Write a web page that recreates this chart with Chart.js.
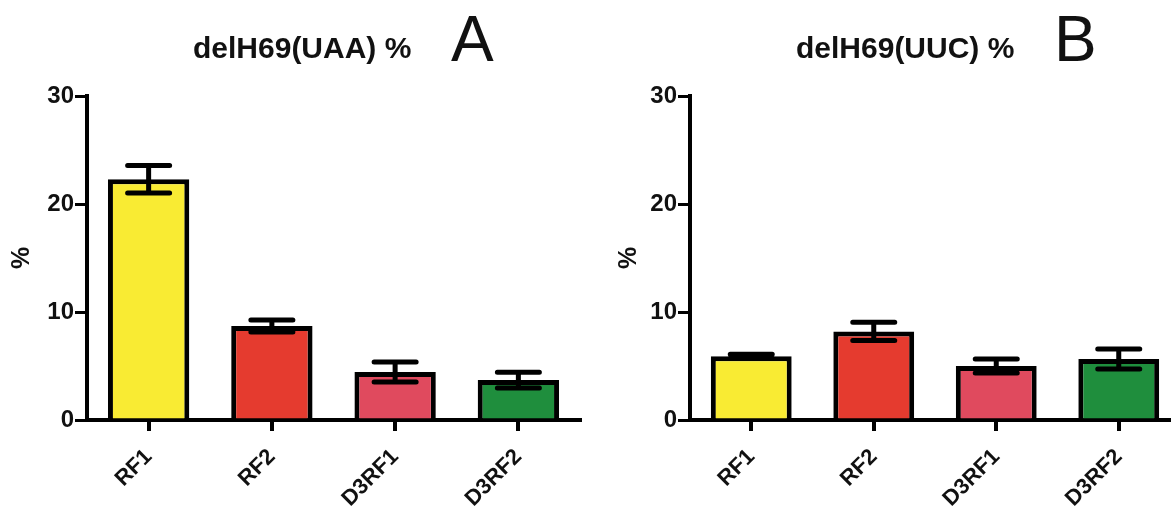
<!DOCTYPE html>
<html>
<head>
<meta charset="utf-8">
<script src="https://cdn.jsdelivr.net/npm/chart.js@4.4.0/dist/chart.umd.min.js"></script>
<style>
    body { margin: 0; background: #fff; }
    #wrap { position: relative; width: 1171px; height: 508px; overflow: hidden; background: #fff; }
    canvas { position: absolute; top: 0; }
    #panelA { left: 0; }
    #panelB { left: 596px; }
</style>
</head>
<body>
<div id="wrap">
    <canvas id="panelA" width="596" height="508"></canvas>
    <canvas id="panelB" width="584" height="508"></canvas>
</div>
<script>
// 数据
const categories = ['RF1', 'RF2', 'D3RF1', 'D3RF2'];
const uaaMeans = [22.3, 8.7, 4.45, 3.7];
const uaaErrors = [1.27, 0.55, 0.93, 0.73];
const uucMeans = [5.9, 8.2, 5.0, 5.65];
const uucErrors = [0.18, 0.85, 0.65, 0.93];
const yTickValues = [0, 10, 20, 30];
const barColors = ['#F9EB33', '#E53B2F', '#E04A5E', '#1F8E3D'];

const FONT = '"Liberation Sans", Arial, sans-serif';

/**
 * 误差线 + 标题
 */
const errorBarPlugin = {
    id: 'errorBars',
    afterDatasetsDraw(chart, args, opts) {
        const ctx = chart.ctx;
        const yScale = chart.scales.y;
        const meta = chart.getDatasetMeta(0);
        const values = chart.data.datasets[0].data;
        ctx.save();
        ctx.strokeStyle = '#000';
        ctx.lineWidth = 5;
        ctx.lineCap = 'round';
        meta.data.forEach((bar, i) => {
            const top = yScale.getPixelForValue(values[i] + opts.errors[i]);
            const bottom = yScale.getPixelForValue(values[i] - opts.errors[i]);
            ctx.beginPath();
            ctx.moveTo(bar.x, top);
            ctx.lineTo(bar.x, bottom);
            ctx.moveTo(bar.x - 21, top);
            ctx.lineTo(bar.x + 21, top);
            ctx.moveTo(bar.x - 21, bottom);
            ctx.lineTo(bar.x + 21, bottom);
            ctx.stroke();
        });
        ctx.restore();
    },
    afterDraw(chart, args, opts) {
        const ctx = chart.ctx;
        const left = chart.chartArea.left;
        ctx.save();
        ctx.fillStyle = '#111';
        ctx.textAlign = 'left';
        ctx.textBaseline = 'alphabetic';
        ctx.font = 'bold 30px ' + FONT;
        ctx.fillText(opts.title, left + 106, 58);
        ctx.font = '64px ' + FONT;
        ctx.fillText(opts.letter, left + 364, 61);
        ctx.restore();
    }
};

function createPanel(canvasId, means, errors, title, letter, axisWidth, titleOffset) {
    const ctx = document.getElementById(canvasId);
    return new Chart(ctx, {
        type: 'bar',
        data: {
            labels: categories,
            datasets: [{
                data: means,
                backgroundColor: barColors,
                borderColor: '#000',
                borderWidth: 5,
                borderSkipped: 'start',
                categoryPercentage: 1,
                barPercentage: 0.66
            }]
        },
        options: {
            responsive: false,
            animation: false,
            layout: { padding: { top: 96, right: canvasId === 'panelA' ? 16 : 0, left: 0, bottom: 0 } },
            plugins: {
                legend: { display: false },
                tooltip: { enabled: false },
                errorBars: { errors: errors, title: title, letter: letter }
            },
            scales: {
                x: {
                    grid: {
                        display: true,
                        drawOnChartArea: false,
                        offset: false,
                        color: '#000',
                        lineWidth: 4,
                        tickLength: 11
                    },
                    border: { color: '#000', width: 4 },
                    ticks: {
                        color: '#111',
                        font: { family: FONT, size: 22, weight: 'bold' },
                        minRotation: 45,
                        maxRotation: 45,
                        autoSkip: false,
                        padding: 13
                    },
                    afterFit(scale) { scale.height = 88; }
                },
                y: {
                    min: 0,
                    max: 30,
                    afterBuildTicks(scale) {
                        scale.ticks = yTickValues.map(v => ({ value: v }));
                    },
                    grid: {
                        drawOnChartArea: false,
                        color: '#000',
                        lineWidth: 3,
                        tickLength: 12
                    },
                    border: { color: '#000', width: 4 },
                    ticks: {
                        color: '#111',
                        font: { family: FONT, size: 24, weight: 'bold' },
                        padding: 1
                    },
                    title: {
                        display: true,
                        text: '%',
                        color: '#111',
                        font: { family: FONT, size: 25, weight: 'bold' },
                        padding: { top: titleOffset, bottom: 0 }
                    },
                    afterFit(scale) { scale.width = axisWidth; }
                }
            }
        },
        plugins: [errorBarPlugin]
    });
}

createPanel('panelA', uaaMeans, uaaErrors, 'delH69(UAA) %', 'A', 87, 7);
createPanel('panelB', uucMeans, uucErrors, 'delH69(UUC) %', 'B', 94, 18);
</script>
</body>
</html>
